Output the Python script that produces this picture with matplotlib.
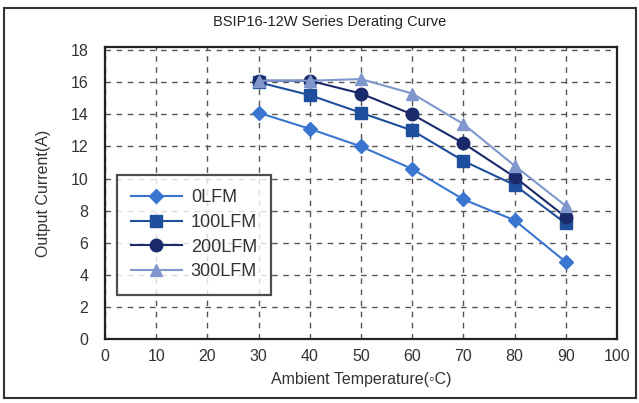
import matplotlib
matplotlib.use("Agg")
import matplotlib.pyplot as plt
from matplotlib.patches import Rectangle

temps = [30, 40, 50, 60, 70, 80, 90]
lfm0 = [14.1, 13.1, 12.0, 10.6, 8.7, 7.4, 4.8]
lfm100 = [16.0, 15.2, 14.1, 13.0, 11.1, 9.6, 7.2]
lfm200 = [16.1, 16.1, 15.3, 14.0, 12.2, 10.1, 7.6]
lfm300 = [16.1, 16.1, 16.2, 15.3, 13.4, 10.8, 8.3]
series_names = ["0LFM", "100LFM", "200LFM", "300LFM"]
x_ticks = [0, 10, 20, 30, 40, 50, 60, 70, 80, 90, 100]
y_ticks = [0, 2, 4, 6, 8, 10, 12, 14, 16, 18]

plt.rcParams['font.family'] = ['Liberation Sans', 'DejaVu Sans']

fig = plt.figure(figsize=(6.39, 4.03), dpi=100)
ax = fig.add_axes([105/639, 1-339/403, (617-105)/639, (339-47)/403])

styles = [
    dict(color='#3a76cf', marker='D', ms=7),
    dict(color='#1e4f9c', marker='s', ms=9),
    dict(color='#1b2a6b', marker='o', ms=9),
    dict(color='#7f97cc', marker='^', ms=8),
]
for vals, name, st in zip([lfm0, lfm100, lfm200, lfm300], series_names, styles):
    ax.plot(temps, vals, color=st['color'], marker=st['marker'], ms=st['ms'],
            lw=1.5, label=name, zorder=3)

ax.set_xlim(0, 100)
ax.set_ylim(0, 18.2)
ax.set_xticks(x_ticks)
ax.set_yticks(y_ticks)
ax.tick_params(length=0, labelsize=11.5, colors='#333333')
ax.tick_params(axis='y', pad=12)
ax.tick_params(axis='x', pad=7)
ax.grid(True, linestyle=(0, (4, 4)), color='#555555', linewidth=1.0)
for s in ax.spines.values():
    s.set_linewidth(1.6)
    s.set_color('#222222')

ax.set_xlabel("Ambient Temperature(\u25e6C)", fontsize=11.5, color='#333333', labelpad=6)
ax.set_ylabel("Output Current(A)", fontsize=11.5, color='#333333', labelpad=14)

leg = ax.legend(loc='upper left', bbox_to_anchor=(0.023, 0.562), fontsize=13,
                handlelength=2.8, frameon=True, fancybox=False, borderpad=0.8,
                labelspacing=0.42, handletextpad=0.5, borderaxespad=0)
leg.get_frame().set_edgecolor('#222222')
leg.get_frame().set_linewidth(1.6)
for t in leg.get_texts():
    t.set_color('#333333')

fig.text(330/639, 1-22/403, "BSIP16-12W Series Derating Curve", ha='center', va='center',
         fontsize=10.5, color='#222222')

fig.patches.append(Rectangle((4/639, 1-398/403), (636-4)/639, (398-8)/403,
                             transform=fig.transFigure, fill=False,
                             edgecolor='#333333', linewidth=1.5))

fig.savefig("out.png", dpi=100)
